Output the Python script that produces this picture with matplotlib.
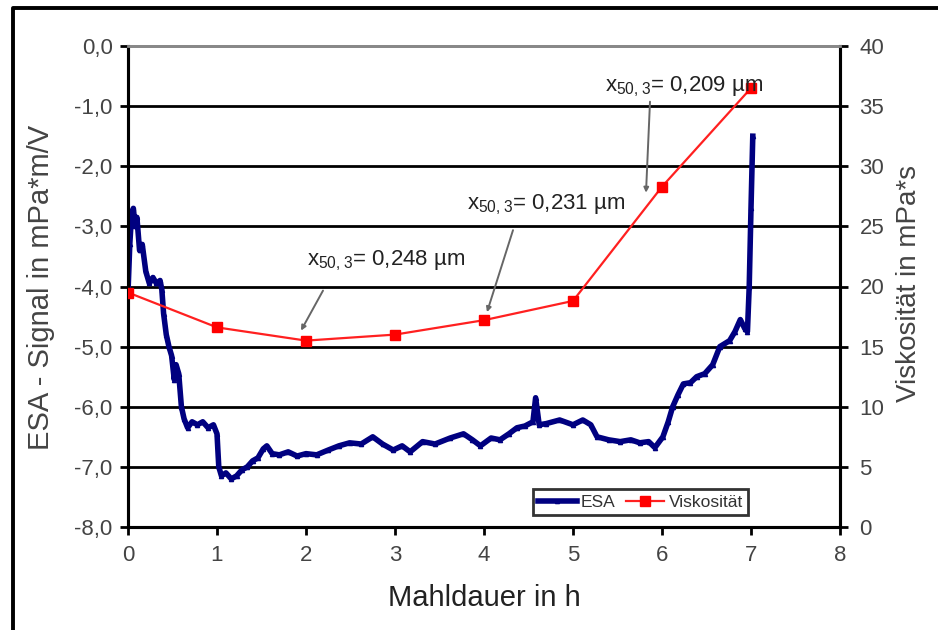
import matplotlib
matplotlib.use("Agg")
import matplotlib.pyplot as plt
from matplotlib.lines import Line2D
from matplotlib.ticker import FuncFormatter
from matplotlib.transforms import offset_copy
from matplotlib import font_manager

plt.rcParams['font.family'] = ['Liberation Sans', 'DejaVu Sans']
plt.rcParams['mathtext.default'] = 'regular'

_names = {f.name for f in font_manager.fontManager.ttflist}
NARROW = ['Liberation Sans Narrow', 'Liberation Sans', 'DejaVu Sans'] \
    if 'Liberation Sans Narrow' in _names else ['Liberation Sans', 'DejaVu Sans']
XLABEL_SIZE = 26 if 'Liberation Sans Narrow' in _names else 21

# ---- data ----
esa_t = [0.00, 0.02, 0.04, 0.06, 0.08, 0.10, 0.13, 0.16, 0.20, 0.24, 0.28, 0.32, 0.36, 0.38,
         0.40, 0.43, 0.46, 0.49, 0.52, 0.54, 0.57, 0.60, 0.63, 0.67, 0.72, 0.78, 0.84, 0.90,
         0.96, 1.00, 1.02, 1.05, 1.10, 1.16, 1.22, 1.28, 1.34, 1.40, 1.46, 1.52, 1.56, 1.62,
         1.70, 1.80, 1.90, 2.00, 2.12, 2.25, 2.37, 2.49, 2.62, 2.75, 2.86, 2.98, 3.08, 3.17,
         3.31, 3.45, 3.62, 3.77, 3.87, 3.96, 4.08, 4.18, 4.28, 4.37, 4.46, 4.55, 4.58, 4.62,
         4.70, 4.85, 5.00, 5.11, 5.20, 5.27, 5.40, 5.53, 5.65, 5.75, 5.85, 5.92, 6.01, 6.07,
         6.12, 6.18, 6.24, 6.32, 6.39, 6.48, 6.57, 6.65, 6.76, 6.82, 6.88, 6.93, 6.96, 6.98,
         7.00, 7.02]
esa_v = [-4.10, -3.30, -2.80, -2.70, -3.00, -2.85, -3.40, -3.30, -3.75, -3.95, -3.85, -3.95,
         -3.90, -4.05, -4.45, -4.80, -5.00, -5.15, -5.55, -5.30, -5.45, -6.00, -6.20, -6.35,
         -6.25, -6.30, -6.25, -6.35, -6.30, -6.45, -7.00, -7.15, -7.10, -7.20, -7.15, -7.05,
         -7.00, -6.90, -6.85, -6.70, -6.65, -6.78, -6.80, -6.75, -6.82, -6.78, -6.80, -6.72,
         -6.65, -6.60, -6.62, -6.50, -6.62, -6.72, -6.65, -6.75, -6.58, -6.62, -6.52, -6.45,
         -6.55, -6.65, -6.52, -6.55, -6.45, -6.35, -6.32, -6.25, -5.85, -6.30, -6.28, -6.22,
         -6.30, -6.22, -6.30, -6.50, -6.55, -6.58, -6.55, -6.60, -6.58, -6.68, -6.50, -6.25,
         -6.00, -5.80, -5.62, -5.60, -5.50, -5.45, -5.30, -5.00, -4.90, -4.75, -4.55, -4.70,
         -4.75, -4.00, -2.70, -1.50]

visc_t = [0, 1, 2, 3, 4, 5, 6, 7]
visc_v = [19.5, 16.6, 15.5, 16.0, 17.2, 18.8, 28.3, 36.5]

annot_idx = [2, 4, 6]
annot_text = [r"$x_{50,3}$= 0,248 µm", r"$x_{50,3}$= 0,231 µm", r"$x_{50,3}$= 0,209 µm"]

x_ticks = [0, 1, 2, 3, 4, 5, 6, 7, 8]
left_ticks = [0, -1, -2, -3, -4, -5, -6, -7, -8]
right_ticks = [0, 5, 10, 15, 20, 25, 30, 35, 40]

# ---- figure ----
W, H = 938, 630
fig = plt.figure(figsize=(W / 100, H / 100), dpi=100)
fig.patch.set_facecolor('white')
ax = fig.add_axes([128 / W, 1 - 527 / H, (840 - 128) / W, (527 - 46) / H])
ax2 = ax.twinx()

esa_line, = ax.plot(esa_t, esa_v, color='#000080', lw=4.0, marker='^', markersize=3,
                    zorder=3, label='ESA')
visc_line, = ax2.plot(visc_t, visc_v, color='#ff2020', lw=1.6, marker='s', markersize=7.5,
                      markerfacecolor='#ff0000', markeredgecolor='#ff0000', zorder=4,
                      label='Viskosität')

ax.set_xlim(0, 8)
ax.set_ylim(-8, 0)
ax2.set_ylim(0, 40)
ax.set_xticks(x_ticks)
ax.set_yticks(left_ticks)
ax2.set_yticks(right_ticks)
ax.yaxis.set_major_formatter(FuncFormatter(lambda v, p: f"{v:.1f}".replace('.', ',')))

ax.set_axisbelow(True)
ax.yaxis.grid(True, color='black', lw=2.0)
for gl, loc in zip(ax.get_ygridlines(), ax.get_yticks()):
    if loc == 0 or loc == -8:
        gl.set_visible(False)

for a in (ax, ax2):
    for s in ('left', 'right', 'bottom'):
        a.spines[s].set_color('black')
        a.spines[s].set_linewidth(2.2)
    a.spines['top'].set_color('#888888')
    a.spines['top'].set_linewidth(2.0)

tick_kw = dict(direction='out', length=6, width=2.0, color='black', labelsize=16,
               labelcolor='#444444')
ax.tick_params(axis='y', pad=5, **tick_kw)
ax.tick_params(axis='x', pad=7, **tick_kw)
ax2.tick_params(axis='y', pad=8, **tick_kw)

ax.set_xlabel('Mahldauer in h', fontsize=XLABEL_SIZE, color='#222222', family=NARROW)
ax.set_ylabel('ESA - Signal in mPa*m/V', fontsize=21, color='#444444')
ax2.set_ylabel('Viskosität in mPa*s', fontsize=20, color='#444444')
ax.xaxis.set_label_coords(0.5, -0.118)
ax.yaxis.set_label_coords(-0.103, 0.499)
ax2.yaxis.set_label_coords(1.078, 0.507)

# annotations: tip offset from point, start offset from tip, text offset from point (pixels)
tip_off = [(-5, 10), (3, 8), (-16, -6)]
start_off = [(22, 40), (26, 82), (4, 91)]
text_off = [(1, 80), (-17, 115), (-57, 100)]
for idx, txt, to, so, xo in zip(annot_idx, annot_text, tip_off, start_off, text_off):
    px, py = visc_t[idx], visc_v[idx]
    tip_tr = offset_copy(ax2.transData, fig=fig, x=to[0], y=to[1], units='dots')
    ax2.annotate('', xy=(px, py), xycoords=tip_tr,
                 xytext=(so[0], so[1]), textcoords='offset pixels',
                 arrowprops=dict(arrowstyle='-|>', color='#666666', lw=1.4,
                                 mutation_scale=7, shrinkA=0, shrinkB=0))
    text_tr = offset_copy(ax2.transData, fig=fig, x=xo[0], y=xo[1], units='dots')
    ax2.text(px, py, txt, transform=text_tr, fontsize=16, ha='left', va='center',
             color='#222222', zorder=5)

leg = ax2.legend(handles=[esa_line, visc_line], loc='lower left',
                 bbox_to_anchor=(0.569, 0.025), ncol=2, fontsize=12.5, frameon=True,
                 fancybox=False, handlelength=2.2, borderpad=0.3, columnspacing=0.6,
                 handletextpad=0.25, borderaxespad=0)
leg.get_frame().set_edgecolor('black')
leg.get_frame().set_linewidth(2.0)
for t in leg.get_texts():
    t.set_color('#333333')

fig.add_artist(Line2D([13 / W, 13 / W, 1.0], [0.0, 1 - 8 / H, 1 - 8 / H],
                      transform=fig.transFigure, color='black', lw=2.8))

fig.savefig('out.png', dpi=100, facecolor='white')
